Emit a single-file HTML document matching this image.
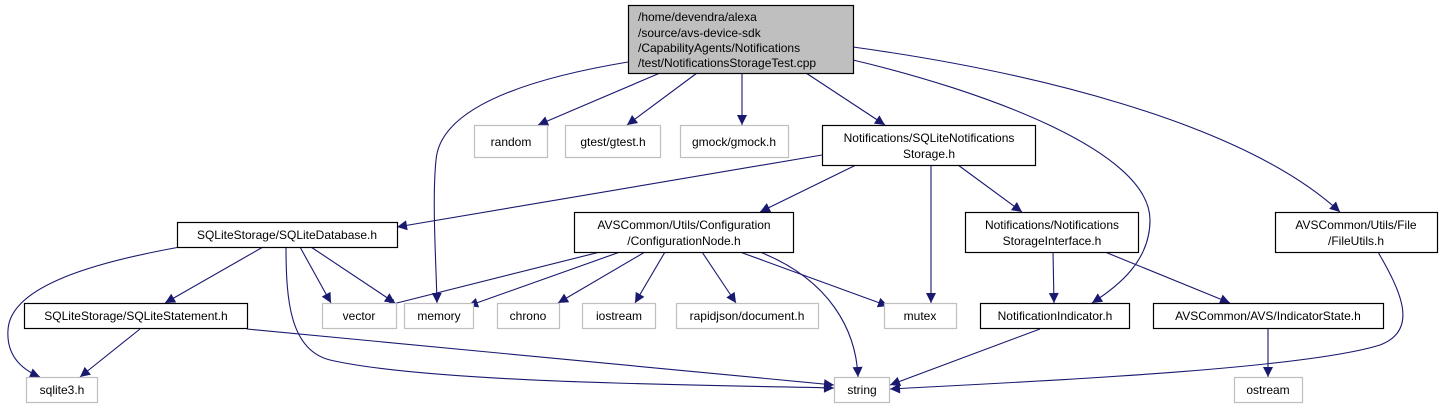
<!DOCTYPE html>
<html><head><meta charset="utf-8"><style>
html,body{margin:0;padding:0;background:#fff;}
svg{display:block;}
text{font-family:"Liberation Sans",sans-serif;font-size:12px;fill:#000;}
.e{fill:none;stroke:#191970;stroke-width:1.1;}
.g{fill:#fff;stroke:#bfbfbf;stroke-width:1.2;}
.b{fill:#fff;stroke:#000;stroke-width:1.2;}
</style></head><body>
<svg width="1443" height="409" viewBox="0 0 1443 409">
<defs><marker id="a" viewBox="0 0 10 10" refX="10" refY="5" markerWidth="14" markerHeight="10" markerUnits="userSpaceOnUse" orient="auto"><path d="M0,0 L10,5 L0,10 z" fill="#191970"/></marker></defs>
<g class="e" marker-end="url(#a)">
<path d="M628,62 C520,80 440,110 436,160 C432,200 436,260 437,303"/>
<path d="M660,73 L538,125"/>
<path d="M697,73 L627,125"/>
<path d="M742,73 L742,125"/>
<path d="M806,73 L885,125"/>
<path d="M853,60 C980,90 1150,150 1150,220 C1150,260 1120,285 1092,303"/>
<path d="M853,47 C1020,70 1240,120 1340,212"/>
<path d="M822,155 L397,227"/>
<path d="M856,165 L760,212"/>
<path d="M931,165 L931,303"/>
<path d="M958,165 L1022,212"/>
<path d="M180,247 C80,265 10,290 8,330 C6,360 28,372 40,377"/>
<path d="M263,247 L165,303"/>
<path d="M286,247 C286,300 290,350 330,360 C430,383 700,385 834,388"/>
<path d="M300,247 L331,303"/>
<path d="M311,247 L395,303"/>
<path d="M600,252 L385,306"/>
<path d="M620,252 L468,306"/>
<path d="M645,252 L558,303"/>
<path d="M665,252 L635,303"/>
<path d="M702,252 L736,303"/>
<path d="M740,252 L888,306"/>
<path d="M760,252 C830,280 856,330 858,377"/>
<path d="M140,329 L80,377"/>
<path d="M247,329 L834,385"/>
<path d="M1053,252 L1054,303"/>
<path d="M1105,252 L1230,303"/>
<path d="M1040,329 L890,385"/>
<path d="M1268,329 L1268,377"/>
<path d="M1378,252 C1400,290 1420,330 1380,345 C1300,370 1020,382 890,389"/>
</g>
<rect x="628.5" y="5.5" width="225" height="68" fill="#bfbfbf" stroke="#000" stroke-width="1.2"/>
<text x="638" y="21">/home/devendra/alexa</text>
<text x="638" y="37">/source/avs-device-sdk</text>
<text x="638" y="52">/CapabilityAgents/Notifications</text>
<text x="638" y="67">/test/NotificationsStorageTest.cpp</text>
<rect class="g" x="474.5" y="125.5" width="73" height="32"/><text x="511" y="146" text-anchor="middle">random</text>
<rect class="g" x="565.5" y="125.5" width="95" height="32"/><text x="613" y="146" text-anchor="middle">gtest/gtest.h</text>
<rect class="g" x="680.5" y="125.5" width="108" height="32"/><text x="734" y="146" text-anchor="middle">gmock/gmock.h</text>
<rect class="b" x="822.5" y="125.5" width="213" height="40"/><text x="929" y="142" text-anchor="middle">Notifications/SQLiteNotifications</text><text x="929" y="158" text-anchor="middle">Storage.h</text>
<rect class="b" x="177.5" y="222.5" width="220" height="25"/><text x="287" y="239" text-anchor="middle">SQLiteStorage/SQLiteDatabase.h</text>
<rect class="b" x="574.5" y="212.5" width="219" height="40"/><text x="684" y="229" text-anchor="middle">AVSCommon/Utils/Configuration</text><text x="684" y="245" text-anchor="middle">/ConfigurationNode.h</text>
<rect class="b" x="965.5" y="212.5" width="173" height="40"/><text x="1052" y="229" text-anchor="middle">Notifications/Notifications</text><text x="1052" y="245" text-anchor="middle">StorageInterface.h</text>
<rect class="b" x="1275.5" y="212.5" width="162" height="40"/><text x="1356" y="229" text-anchor="middle">AVSCommon/Utils/File</text><text x="1356" y="245" text-anchor="middle">/FileUtils.h</text>
<rect class="b" x="24.5" y="303.5" width="223" height="25"/><text x="136" y="320" text-anchor="middle">SQLiteStorage/SQLiteStatement.h</text>
<rect class="g" x="322.5" y="303.5" width="74" height="25"/><text x="359" y="320" text-anchor="middle">vector</text>
<rect class="g" x="404.5" y="303.5" width="69" height="25"/><text x="439" y="320" text-anchor="middle">memory</text>
<rect class="g" x="497.5" y="303.5" width="62" height="25"/><text x="528" y="320" text-anchor="middle">chrono</text>
<rect class="g" x="582.5" y="303.5" width="73" height="25"/><text x="619" y="320" text-anchor="middle">iostream</text>
<rect class="g" x="676.5" y="303.5" width="142" height="25"/><text x="747" y="320" text-anchor="middle">rapidjson/document.h</text>
<rect class="g" x="884.5" y="303.5" width="72" height="25"/><text x="920" y="320" text-anchor="middle">mutex</text>
<rect class="b" x="980.5" y="303.5" width="149" height="25"/><text x="1055" y="320" text-anchor="middle">NotificationIndicator.h</text>
<rect class="b" x="1153.5" y="303.5" width="230" height="25"/><text x="1268" y="320" text-anchor="middle">AVSCommon/AVS/IndicatorState.h</text>
<rect class="g" x="26.5" y="377.5" width="71" height="25"/><text x="62" y="394" text-anchor="middle">sqlite3.h</text>
<rect class="g" x="834.5" y="377.5" width="55" height="25"/><text x="862" y="394" text-anchor="middle">string</text>
<rect class="g" x="1234.5" y="377.5" width="68" height="25"/><text x="1268" y="394" text-anchor="middle">ostream</text>
</svg>
</body></html>
